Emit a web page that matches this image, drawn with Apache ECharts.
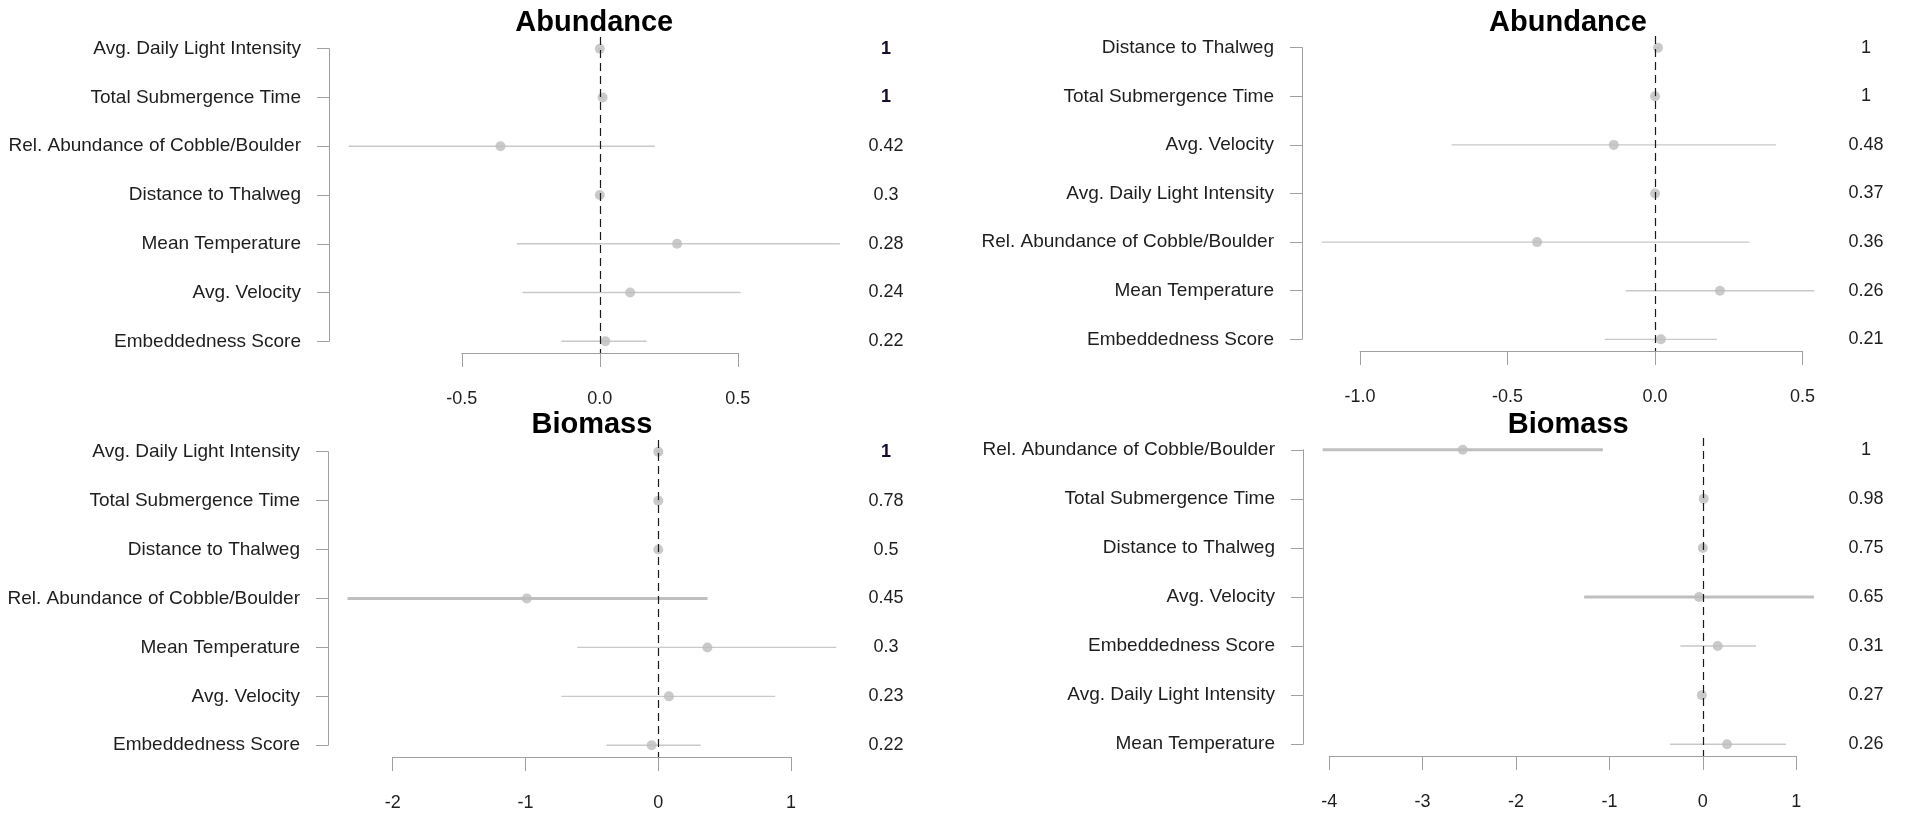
<!DOCTYPE html>
<html>
<head>
<meta charset="utf-8">
<title>Abundance and Biomass coefficient plots</title>
<script src="https://cdn.jsdelivr.net/npm/echarts@6/dist/echarts.min.js"></script>
<style>
  html, body { margin: 0; padding: 0; background: #ffffff; }
  #chart { width: 1917px; height: 814px; }
</style>
</head>
<body>
<div id="chart"></div>
<script>
// ---- Abundance, left model ----
const abundanceLeftNames = ['Avg. Daily Light Intensity', 'Total Submergence Time', 'Rel. Abundance of Cobble/Boulder',
  'Distance to Thalweg', 'Mean Temperature', 'Avg. Velocity', 'Embeddedness Score'];
const abundanceLeftEstimate = [0.0, 0.01, -0.36, 0.0, 0.28, 0.11, 0.02];
const abundanceLeftLower = [-0.005, 0.005, -0.91, -0.005, -0.30, -0.28, -0.14];
const abundanceLeftUpper = [0.005, 0.015, 0.20, 0.005, 0.87, 0.51, 0.17];
const abundanceLeftImportance = [1, 1, 0.42, 0.3, 0.28, 0.24, 0.22];
const abundanceLeftTicks = [-0.5, 0.0, 0.5];

// ---- Abundance, right model ----
const abundanceRightNames = ['Distance to Thalweg', 'Total Submergence Time', 'Avg. Velocity', 'Avg. Daily Light Intensity',
  'Rel. Abundance of Cobble/Boulder', 'Mean Temperature', 'Embeddedness Score'];
const abundanceRightEstimate = [0.01, 0.0, -0.14, 0.0, -0.40, 0.22, 0.02];
const abundanceRightLower = [0.005, -0.005, -0.69, -0.005, -1.13, -0.10, -0.17];
const abundanceRightUpper = [0.015, 0.005, 0.41, 0.005, 0.32, 0.54, 0.21];
const abundanceRightImportance = [1, 1, 0.48, 0.37, 0.36, 0.26, 0.21];
const abundanceRightTicks = [-1.0, -0.5, 0.0, 0.5];

// ---- Biomass, left model ----
const biomassLeftNames = ['Avg. Daily Light Intensity', 'Total Submergence Time', 'Distance to Thalweg',
  'Rel. Abundance of Cobble/Boulder', 'Mean Temperature', 'Avg. Velocity', 'Embeddedness Score'];
const biomassLeftEstimate = [0.0, 0.0, 0.0, -0.99, 0.37, 0.08, -0.05];
const biomassLeftLower = [-0.01, -0.01, -0.01, -2.34, -0.61, -0.73, -0.39];
const biomassLeftUpper = [0.01, 0.01, 0.01, 0.37, 1.34, 0.88, 0.32];
const biomassLeftImportance = [1, 0.78, 0.5, 0.45, 0.3, 0.23, 0.22];
const biomassLeftTicks = [-2, -1, 0, 1];

// ---- Biomass, right model ----
const biomassRightNames = ['Rel. Abundance of Cobble/Boulder', 'Total Submergence Time', 'Distance to Thalweg',
  'Avg. Velocity', 'Embeddedness Score', 'Avg. Daily Light Intensity', 'Mean Temperature'];
const biomassRightEstimate = [-2.57, 0.01, 0.0, -0.04, 0.16, -0.01, 0.26];
const biomassRightLower = [-4.07, 0.0, -0.01, -1.27, -0.24, -0.02, -0.35];
const biomassRightUpper = [-1.07, 0.02, 0.01, 1.19, 0.57, 0.0, 0.89];
const biomassRightImportance = [1, 0.98, 0.75, 0.65, 0.31, 0.27, 0.26];
const biomassRightTicks = [-4, -3, -2, -1, 0, 1];

const FONT = '"Liberation Sans", Arial, Helvetica, sans-serif';
const AXIS_GREY = '#a0a0a0';
const TEXT = '#1e1e1e';

// Panel layout: plot box (left edge, top, bottom), pixels per unit on the x scale,
// and the centre line of the importance column.
const panels = [
  { title: 'Abundance', names: abundanceLeftNames, est: abundanceLeftEstimate, lower: abundanceLeftLower,
    upper: abundanceLeftUpper, importance: abundanceLeftImportance, ticks: abundanceLeftTicks,
    left: 329, top: 37, bottom: 353, unitPx: 276, valueX: 886, titleTop: 8, boldFull: true, thickFrom: Infinity },
  { title: 'Abundance', names: abundanceRightNames, est: abundanceRightEstimate, lower: abundanceRightLower,
    upper: abundanceRightUpper, importance: abundanceRightImportance, ticks: abundanceRightTicks,
    left: 1302, top: 36, bottom: 351, unitPx: 295, valueX: 1866, titleTop: 8, boldFull: false, thickFrom: Infinity },
  { title: 'Biomass', names: biomassLeftNames, est: biomassLeftEstimate, lower: biomassLeftLower,
    upper: biomassLeftUpper, importance: biomassLeftImportance, ticks: biomassLeftTicks,
    left: 328, top: 440, bottom: 757, unitPx: 132.8, valueX: 886, titleTop: 410, boldFull: true, thickFrom: 0.45 },
  { title: 'Biomass', names: biomassRightNames, est: biomassRightEstimate, lower: biomassRightLower,
    upper: biomassRightUpper, importance: biomassRightImportance, ticks: biomassRightTicks,
    left: 1303, top: 438, bottom: 756, unitPx: 93.4, valueX: 1866, titleTop: 410, boldFull: false, thickFrom: 0.45 }
];

const ROW_PAD = 0.24; // 4% range extension on a 1..7 row scale

const option = {
  backgroundColor: '#ffffff',
  animation: false,
  title: [], grid: [], xAxis: [], yAxis: [], series: []
};

panels.forEach((p) => {
  const n = p.names.length;
  const lo = Math.min(...p.lower);
  const hi = Math.max(...p.upper);
  const ext = (hi - lo) * 0.04;
  const xMin = lo - ext;
  const xMax = hi + ext;
  const width = (xMax - xMin) * p.unitPx;
  const yMin = 1 - ROW_PAD;
  const yMax = n + ROW_PAD;
  const plotH = p.bottom - p.top;
  const rowPx = (r) => p.top + (r - yMin) / (yMax - yMin) * plotH;
  const xPx = (v) => p.left + (v - xMin) / (xMax - xMin) * width;

  // plot region: segments, points and the zero reference line
  const gPlot = option.grid.length;
  option.grid.push({ left: p.left, top: p.top, width: width, height: plotH });
  option.xAxis.push({ type: 'value', gridIndex: gPlot, min: xMin, max: xMax, show: false });
  option.yAxis.push({ type: 'value', gridIndex: gPlot, min: yMin, max: yMax, inverse: true, show: false });
  const xPlot = option.xAxis.length - 1;
  const yPlot = option.yAxis.length - 1;

  // row axis: predictor names on the left, importance values on the right
  const gRows = option.grid.length;
  option.grid.push({ left: p.left, top: rowPx(1), width: width, height: rowPx(n) - rowPx(1) });
  option.xAxis.push({ type: 'value', gridIndex: gRows, min: 0, max: 1, show: false });
  option.yAxis.push({
    type: 'value', gridIndex: gRows, min: 1, max: n, interval: 1, inverse: true, position: 'left',
    axisLine: { show: true, lineStyle: { color: AXIS_GREY, width: 1 } },
    axisTick: { show: true, length: 12, lineStyle: { color: AXIS_GREY, width: 1 } },
    splitLine: { show: false },
    axisLabel: {
      margin: 28, fontSize: 19, fontFamily: FONT, color: TEXT,
      formatter: (v) => p.names[Math.round(v) - 1] || ''
    }
  });
  option.yAxis.push({
    type: 'value', gridIndex: gRows, min: 1, max: n, interval: 1, inverse: true, position: 'right',
    axisLine: { show: false }, axisTick: { show: false }, splitLine: { show: false },
    axisLabel: {
      margin: p.valueX - (p.left + width), align: 'center', fontSize: 18, fontFamily: FONT, color: TEXT,
      formatter: (v) => {
        const val = p.importance[Math.round(v) - 1];
        if (val === undefined) return '';
        return (p.boldFull && val === 1) ? '{b|' + val + '}' : String(val);
      },
      rich: { b: { fontWeight: 'bold', fontSize: 18, fontFamily: FONT, color: '#160c2a' } }
    }
  });

  // coefficient axis, spanning first to last tick
  const t0 = p.ticks[0];
  const t1 = p.ticks[p.ticks.length - 1];
  const step = p.ticks[1] - p.ticks[0];
  const decimals = step < 1 ? 1 : 0;
  const gAxis = option.grid.length;
  option.grid.push({ left: xPx(t0), width: xPx(t1) - xPx(t0), top: p.bottom - 10, height: 10 });
  option.xAxis.push({
    type: 'value', gridIndex: gAxis, min: t0, max: t1, interval: step, position: 'bottom',
    axisLine: { show: true, lineStyle: { color: AXIS_GREY, width: 1 } },
    axisTick: { show: true, length: 14, lineStyle: { color: AXIS_GREY, width: 1 } },
    splitLine: { show: false },
    axisLabel: { margin: 37, fontSize: 18, fontFamily: FONT, color: TEXT, formatter: (v) => v.toFixed(decimals) }
  });
  option.yAxis.push({ type: 'value', gridIndex: gAxis, show: false });

  option.title.push({
    text: p.title, left: p.left + width / 2, top: p.titleTop, textAlign: 'center', padding: 0,
    textStyle: { fontSize: 29, fontWeight: 'bold', fontFamily: FONT, color: '#000000', lineHeight: 30 }
  });

  // interval segments
  option.series.push({
    type: 'custom', xAxisIndex: xPlot, yAxisIndex: yPlot, silent: true, z: 2,
    data: p.names.map((_, i) => [i + 1, p.lower[i], p.upper[i], p.importance[i] >= p.thickFrom ? 3 : 1.4]),
    encode: { x: [1, 2], y: 0 },
    renderItem: (params, api) => {
      const a = api.coord([api.value(1), api.value(0)]);
      const b = api.coord([api.value(2), api.value(0)]);
      const w = api.value(3);
      return {
        type: 'line',
        shape: { x1: a[0], y1: a[1], x2: b[0], y2: b[1] },
        style: { stroke: w > 2 ? '#bfbfbf' : '#c9c9c9', lineWidth: w }
      };
    }
  });

  // point estimates with the zero line
  option.series.push({
    type: 'scatter', xAxisIndex: xPlot, yAxisIndex: yPlot, silent: true, z: 3,
    symbol: 'circle', symbolSize: 10,
    itemStyle: { color: '#bdbdbd' },
    data: p.est.map((v, i) => [v, i + 1]),
    markLine: {
      silent: true, symbol: 'none', animation: false,
      label: { show: false },
      lineStyle: { type: [8, 5], color: '#1a1a1a', width: 1.2 },
      data: [{ xAxis: 0 }]
    }
  });
});

const chart = echarts.init(document.getElementById('chart'), null, { renderer: 'canvas' });
chart.setOption(option);
</script>
</body>
</html>
